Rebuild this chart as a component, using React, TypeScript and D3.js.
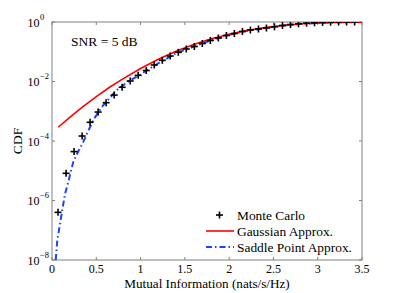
import React from 'react';
import * as d3 from 'd3';

// Monte Carlo markers
const mcRate = [0.068, 0.159, 0.249, 0.34, 0.43, 0.521, 0.611, 0.702, 0.792, 0.883, 0.973, 1.064, 1.154, 1.245, 1.335, 1.426, 1.516, 1.607, 1.697, 1.788, 1.878, 1.969, 2.059, 2.15, 2.24, 2.331, 2.421, 2.512, 2.602, 2.693, 2.783, 2.874, 2.964, 3.055, 3.145, 3.236, 3.326, 3.417];
const mcCdf = [4.0e-7, 8.2e-6, 4.4e-5, 1.47e-4, 4.26e-4, 9.4e-4, 1.94e-3, 3.5e-3, 6.4e-3, 0.0104, 0.0161, 0.0234, 0.0359, 0.0516, 0.0719, 0.0959, 0.124, 0.15, 0.189, 0.239, 0.29, 0.352, 0.41, 0.48, 0.538, 0.582, 0.628, 0.69, 0.762, 0.824, 0.869, 0.912, 0.94, 0.97, 0.984, 0.991, 0.995, 0.998];

// Gaussian approximation
const gaussRate = [0.07, 0.2, 0.35, 0.5, 0.65, 0.8, 1.0, 1.2, 1.4, 1.6, 1.8, 2.0, 2.2, 2.4, 2.6, 2.8, 3.0, 3.2, 3.4, 3.5];
const gaussCdf = [2.9e-4, 6.2e-4, 1.44e-3, 3.1e-3, 6.4e-3, 0.0122, 0.0274, 0.056, 0.104, 0.176, 0.272, 0.39, 0.52, 0.647, 0.758, 0.855, 0.925, 0.965, 0.985, 0.99];

// Saddle point approximation
const saddleRate = [0.042, 0.06, 0.09, 0.11, 0.147, 0.184, 0.211, 0.24, 0.3, 0.354, 0.466, 0.579, 0.73, 0.862, 1.0, 1.2, 1.4, 1.6, 1.8, 2.0, 2.2, 2.4, 2.6, 2.8, 3.0, 3.2, 3.5];
const saddleCdf = [1e-8, 4.7e-8, 1.6e-7, 3.8e-7, 1.66e-6, 4.2e-6, 9.1e-6, 1.95e-5, 4.7e-5, 9.5e-5, 5.1e-4, 1.62e-3, 5.1e-3, 0.01, 0.0174, 0.041, 0.089, 0.148, 0.245, 0.372, 0.51, 0.617, 0.76, 0.867, 0.927, 0.977, 0.995];

const xTicks = [0, 0.5, 1, 1.5, 2, 2.5, 3, 3.5];
const yExponents = [-8, -6, -4, -2, 0];
const legendLabels = ['Monte Carlo', 'Gaussian Approx.', 'Saddle Point Approx.'];

const W = 399;
const H = 293;
const margin = { left: 52, right: 37, top: 22, bottom: 33 };
const font = 'Liberation Serif, Times New Roman, serif';
const axisColor = '#808080';

export default function App() {
  const x = d3.scaleLinear().domain([0, 3.5]).range([margin.left, W - margin.right]);
  const y = d3.scaleLog().domain([1e-8, 1]).range([H - margin.bottom, margin.top]);

  const line = d3.line<[number, number]>()
    .x(d => x(d[0]))
    .y(d => y(d[1]));

  const gaussPath = line(gaussRate.map((r, i) => [r, gaussCdf[i]] as [number, number])) || '';
  const saddlePath = line(saddleRate.map((r, i) => [r, saddleCdf[i]] as [number, number])) || '';

  const x0 = margin.left, x1 = W - margin.right, y0 = H - margin.bottom, y1 = margin.top;
  const tickLen = 3;

  const plus = (cx: number, cy: number, key: string | number) => (
    <g key={key} stroke="#000" strokeWidth={1.6}>
      <line x1={cx - 3.5} x2={cx + 3.5} y1={cy} y2={cy} />
      <line x1={cx} x2={cx} y1={cy - 3.5} y2={cy + 3.5} />
    </g>
  );

  const legX = 206, legLen = 28, legTextX = 237;
  const legY = [215, 231, 247];

  return (
    <svg width={W} height={H} style={{ position: 'absolute', left: 0, top: 0, background: '#fff' }} fontFamily={font}>
      <rect width={W} height={H} fill="#fff" />
      <defs>
        <clipPath id="plotArea">
          <rect x={x0} y={y1} width={x1 - x0} height={y0 - y1} />
        </clipPath>
      </defs>

      {/* axes box */}
      <rect x={x0} y={y1} width={x1 - x0} height={y0 - y1} fill="none" stroke={axisColor} strokeWidth={1} />
      {xTicks.map(t => (
        <g key={'xt' + t}>
          <line x1={x(t)} x2={x(t)} y1={y0} y2={y0 - tickLen} stroke={axisColor} />
          <line x1={x(t)} x2={x(t)} y1={y1} y2={y1 + tickLen} stroke={axisColor} />
          <text x={x(t)} y={y0 + 13} fontSize={12} textAnchor="middle" fill="#000">{String(t)}</text>
        </g>
      ))}
      {yExponents.map(e => {
        const v = Math.pow(10, e);
        const yy = y(v);
        return (
          <g key={'yt' + e}>
            <line x1={x0} x2={x0 + tickLen} y1={yy} y2={yy} stroke={axisColor} />
            <line x1={x1} x2={x1 - tickLen} y1={yy} y2={yy} stroke={axisColor} />
            <text x={39.5} y={yy + 4.5} fontSize={12} textAnchor="end" fill="#000">10</text>
            <text x={40} y={yy - 2.5} fontSize={8.5} textAnchor="start" fill="#000">{e === 0 ? '0' : '\u2212' + Math.abs(e)}</text>
          </g>
        );
      })}

      <g clipPath="url(#plotArea)">
        <path d={saddlePath} fill="none" stroke="#2040ff" strokeWidth={2} strokeDasharray="6,3,1.5,3" />
        <path d={gaussPath} fill="none" stroke="#ff0000" strokeWidth={1.6} />
        {mcRate.map((r, i) => plus(x(r), y(mcCdf[i]), i))}
      </g>

      <text x={71} y={46} fontSize={13.5} fill="#000">SNR = 5 dB</text>

      {/* legend */}
      {plus(219.5, legY[0], 'leg0')}
      <line x1={legX} x2={legX + legLen} y1={legY[1]} y2={legY[1]} stroke="#ff0000" strokeWidth={1.6} />
      <line x1={legX} x2={legX + legLen} y1={legY[2]} y2={legY[2]} stroke="#2040ff" strokeWidth={2} strokeDasharray="6,3,1.5,3" />
      {legendLabels.map((l, i) => (
        <text key={l} x={legTextX} y={legY[i] + 4.5} fontSize={13.4} fill="#000">{l}</text>
      ))}

      <text x={(x0 + x1) / 2} y={288} fontSize={13.2} textAnchor="middle" fill="#000">Mutual Information (nats/s/Hz)</text>
      <text transform={`translate(22, ${(y0 + y1) / 2}) rotate(-90)`} fontSize={13.5} textAnchor="middle" fill="#000">CDF</text>
    </svg>
  );
}
